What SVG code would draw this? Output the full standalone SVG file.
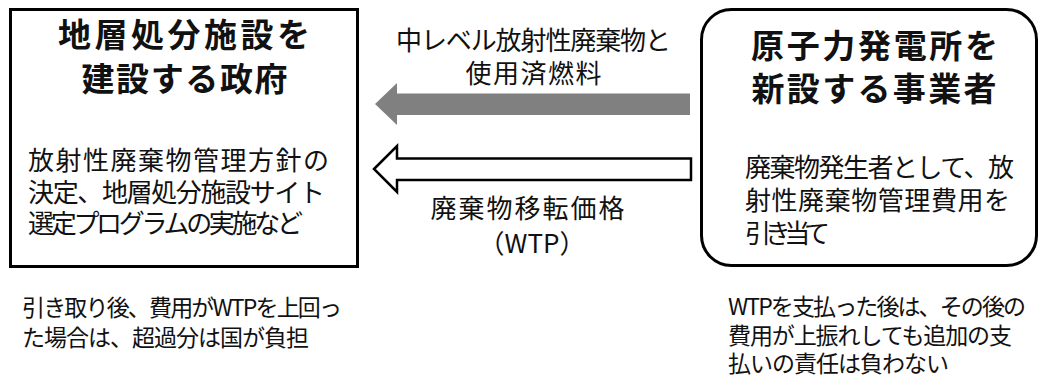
<svg xmlns="http://www.w3.org/2000/svg" width="1039" height="379" viewBox="0 0 1039 379">
<style>
.t{font-family:"Noto Sans CJK JP","Noto Sans",sans-serif;fill:#111;}
.title{font-size:33px;font-weight:700;text-anchor:middle;}
.body{font-size:26px;}
.mid{font-size:26px;text-anchor:middle;}
.note{font-size:23px;}
.box{fill:#fff;stroke:#000;stroke-width:3;}
</style>
<rect width="1039" height="379" fill="#fff"/>
<g id="connectors">
<path id="gray-arrow" d="M375,104 L397,83 L397,93.5 L690,93.5 L690,115 L397,115 L397,125 Z" fill="#808080"/>
<path id="wtp-arrow" d="M374,169 L397,146 L397,158.5 L691,158.5 L691,180 L397,180 L397,192 Z" fill="#fff" stroke="#000" stroke-width="2.5" stroke-linejoin="miter"/>
<text class="t mid" x="533.5" y="50" textLength="275">中レベル放射性廃棄物と</text>
<text class="t mid" x="533.5" y="83" textLength="136">使用済燃料</text>
<text class="t mid" x="527.5" y="218" textLength="194">廃棄物移転価格</text>
<text class="t mid" x="532" y="253">（WTP）</text>
</g>
<g id="government">
<rect class="box" x="10.5" y="9.5" width="347" height="257"/>
<text class="t title" x="184" y="47" textLength="252">地層処分施設を</text>
<text class="t title" x="184.5" y="91" textLength="206">建設する政府</text>
<text class="t body" x="28" y="170" textLength="301">放射性廃棄物管理方針の</text>
<text class="t body" x="28" y="202" textLength="297">決定、地層処分施設サイト</text>
<text class="t body" x="28" y="233" textLength="275">選定プログラムの実施など</text>
</g>
<g id="operator">
<rect class="box" x="701.5" y="9.5" width="335" height="256" rx="30" ry="30"/>
<text class="t title" x="874.5" y="58" textLength="247">原子力発電所を</text>
<text class="t title" x="874" y="101" textLength="245">新設する事業者</text>
<text class="t body" x="745" y="177" textLength="269">廃棄物発生者として、放</text>
<text class="t body" x="745" y="210" textLength="265">射性廃棄物管理費用を</text>
<text class="t body" x="745" y="243" textLength="85">引き当て</text>
</g>
<g id="note-left">
<text class="t note" x="22" y="316" textLength="320">引き取り後、費用がWTPを上回っ</text>
<text class="t note" x="22" y="346" textLength="287">た場合は、超過分は国が負担</text>
</g>
<g id="note-right">
<text class="t note" x="728" y="315" textLength="298">WTPを支払った後は、その後の</text>
<text class="t note" x="728" y="344" textLength="284">費用が上振れしても追加の支</text>
<text class="t note" x="728" y="372" textLength="221">払いの責任は負わない</text>
</g>
</svg>
